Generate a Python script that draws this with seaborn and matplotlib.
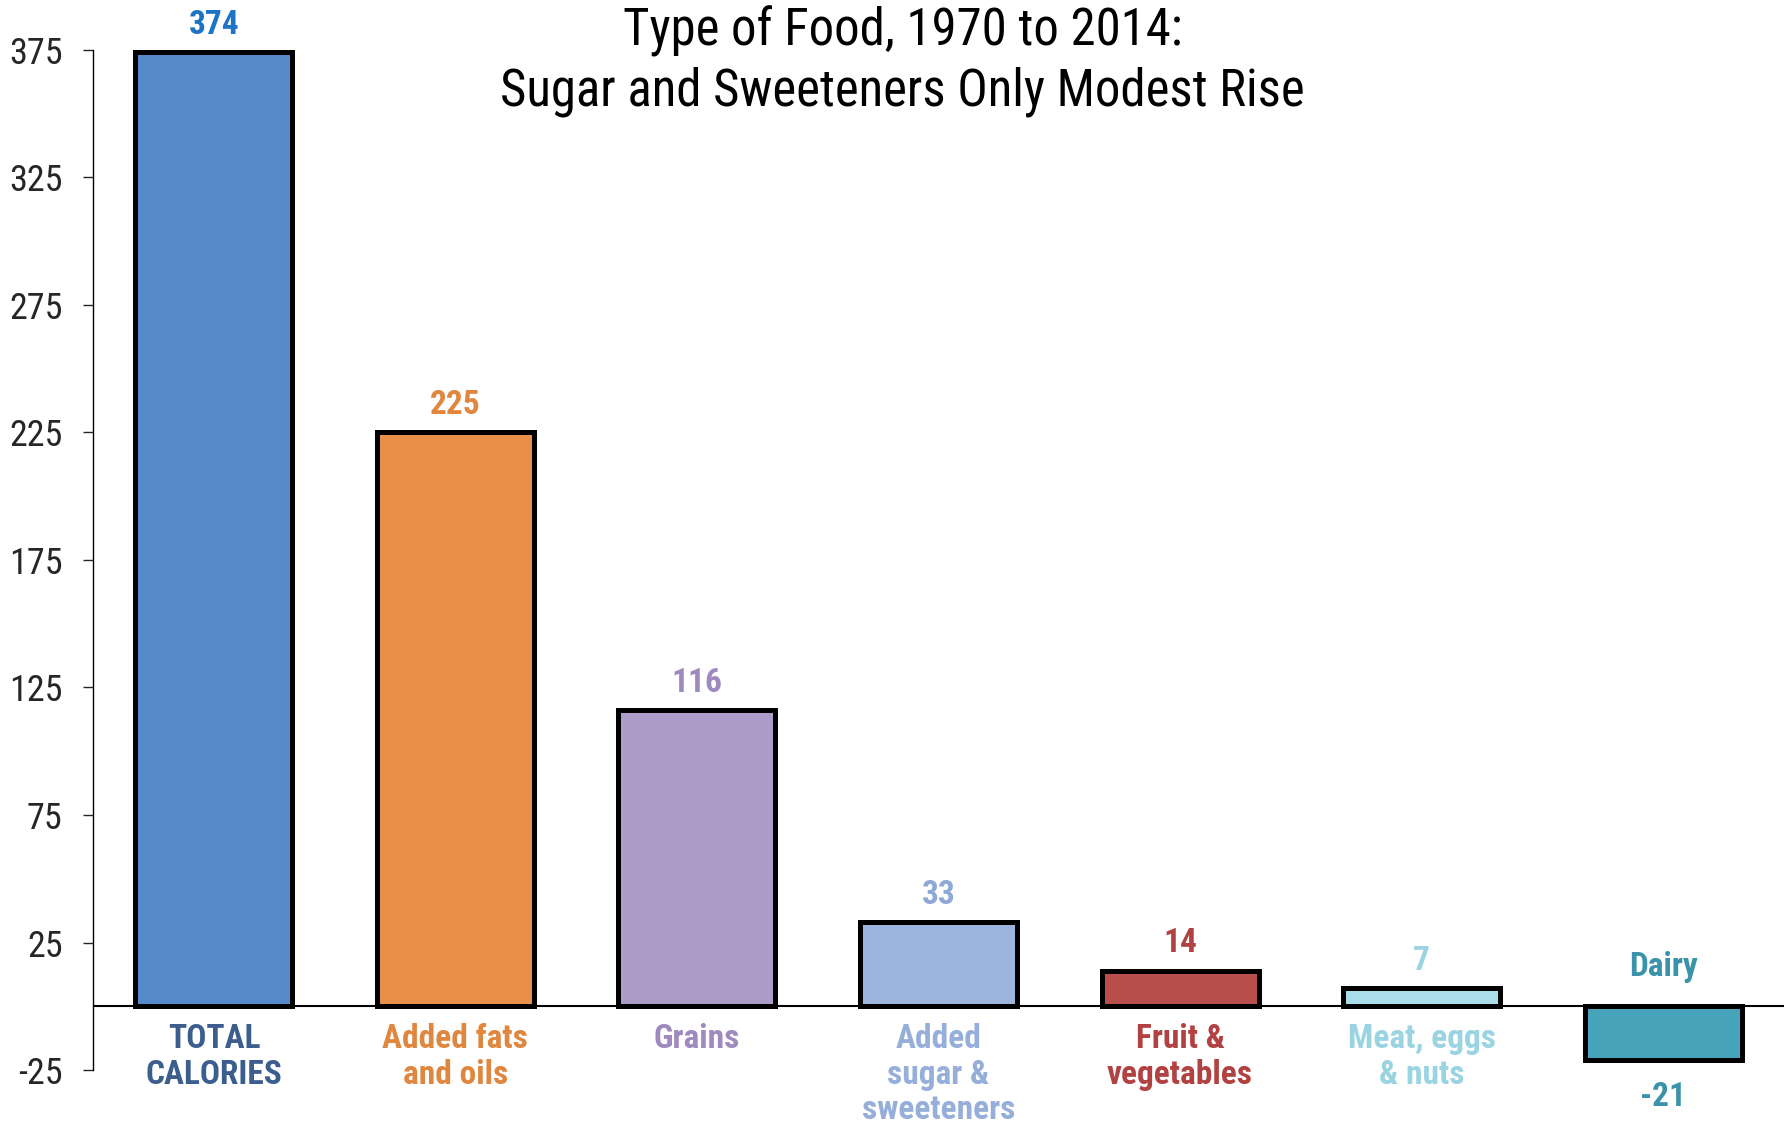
import matplotlib
matplotlib.use("Agg")
import matplotlib.pyplot as plt
from matplotlib import font_manager as fm
import seaborn as sns
import pandas as pd

# data
categories = ["TOTAL\nCALORIES", "Added fats\nand oils", "Grains",
              "Added\nsugar &\nsweeteners", "Fruit &\nvegetables",
              "Meat, eggs\n& nuts", "Dairy"]
values = [374, 225, 116, 33, 14, 7, -21]
bar_colors = ["#568BCB", "#E8904A", "#AD9BC8", "#9DB5DC", "#B84E4B", "#A8DDE9", "#47A3BA"]
value_colors = ["#1B75C4", "#E0873F", "#9F8AC0", "#8FA9D6", "#B24241", "#9AD3E2", "#3A93AA"]
label_colors = ["#3B5E8F", "#E0873F", "#9F8AC0", "#95AEDA", "#B24241", "#9AD3E2", "#3A93AA"]
yticks = [-25, 25, 75, 125, 175, 225, 275, 325, 375]
title = "Type of Food, 1970 to 2014:\nSugar and Sweeteners Only Modest Rise"

# the original uses Arial Narrow; take the closest narrow face that is installed,
# preferring one that also comes with a bold weight
weights = {}
for f in fm.fontManager.ttflist:
    weights.setdefault(f.name, set()).add(f.weight)
narrow = ["Arial Narrow", "Liberation Sans Narrow", "Roboto Condensed", "PT Sans Narrow",
          "Archivo Narrow", "Pragati Narrow", "Encode Sans Condensed", "Open Sans Condensed"]


def has_bold(name):
    return any(isinstance(w, int) and w >= 600 or w == "bold" for w in weights[name])


found = [n for n in narrow if n in weights]
with_bold = [n for n in found if has_bold(n)]
if with_bold:
    main_font, k = with_bold[0], 1.0
elif found:
    main_font, k = found[0], 1.0
else:
    main_font, k = "Liberation Sans", 0.82

sns.set_style("white")
plt.rcParams["font.family"] = [main_font, "DejaVu Sans"]

df = pd.DataFrame({"cat": categories, "val": values})

fig = plt.figure(figsize=(17.91, 11.26), dpi=100)
ax = fig.add_axes([0.052, 0.0497, 0.944, 0.906])

sns.barplot(data=df, x="cat", y="val", hue="cat", palette=dict(zip(categories, bar_colors)),
            legend=False, width=0.65, saturation=1, ax=ax)

for p in ax.patches:
    p.set_edgecolor("black")
    p.set_linewidth(3.6)

ax.set_xlim(-0.5, 6.5)
ax.set_ylim(-25, 375)
ax.axhline(0, color="black", lw=1.5, zorder=0)

for s in ["top", "right", "bottom"]:
    ax.spines[s].set_visible(False)
ax.spines["left"].set_color("black")
ax.spines["left"].set_linewidth(1.0)

ax.set_yticks(yticks)
ax.set_yticklabels([str(t) for t in yticks])
ax.tick_params(axis="y", direction="out", length=7, width=1, pad=15,
               labelsize=26 * k, left=True)
ax.set_xticks([])
ax.set_xlabel("")
ax.set_ylabel("")

fs = 24 * k
for i, (v, cat) in enumerate(zip(values, categories)):
    if v >= 0:
        ax.annotate(str(v), (i, v), xytext=(0, 8), textcoords="offset points",
                    ha="center", va="bottom", fontsize=fs, fontweight="bold",
                    color=value_colors[i])
        ax.annotate(cat, (i, 0), xytext=(0, -12), textcoords="offset points",
                    ha="center", va="top", fontsize=fs, fontweight="bold",
                    color=label_colors[i], linespacing=1.15)
    else:
        ax.annotate(str(v), (i, v), xytext=(0, -15), textcoords="offset points",
                    ha="center", va="top", fontsize=fs, fontweight="bold",
                    color=value_colors[i])
        ax.annotate(cat, (i, 0), xytext=(0, 17), textcoords="offset points",
                    ha="center", va="bottom", fontsize=fs, fontweight="bold",
                    color=label_colors[i])

fig.text(0.504, 0.896, title, ha="center", va="bottom", fontsize=36.5 * k,
         color="black", linespacing=1.25)

fig.savefig("out.png", dpi=100)
